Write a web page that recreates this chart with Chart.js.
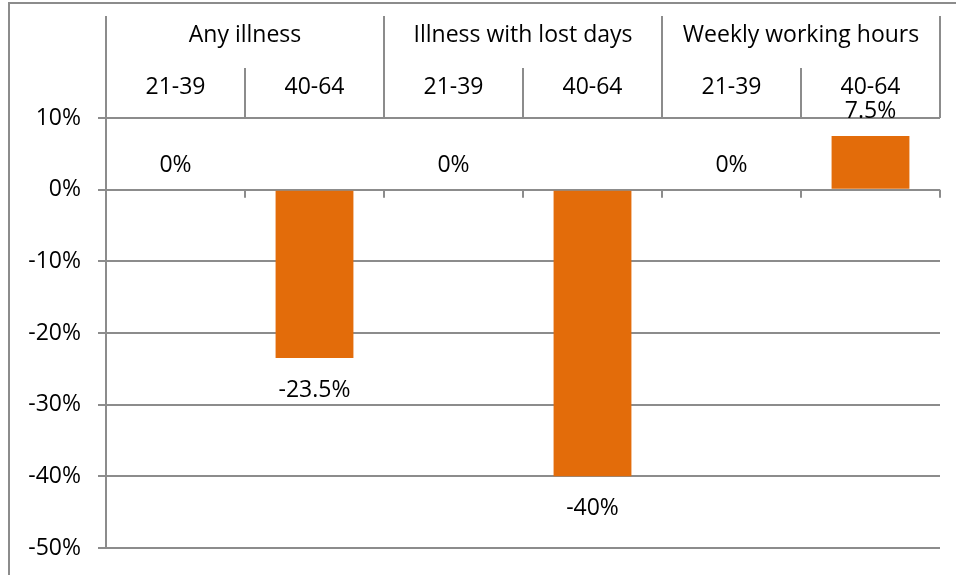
<!DOCTYPE html>
<html>
<head>
<meta charset="utf-8">
<script src="https://cdn.jsdelivr.net/npm/chart.js@4/dist/chart.umd.min.js"></script>
<style>
  html, body { margin: 0; padding: 0; background: #fff; }
  canvas { display: block; }
</style>
</head>
<body>
<canvas id="chart" width="956" height="575"></canvas>
<script>
// groups across the top, two age bands under each
const groups = ['Any illness', 'Illness with lost days', 'Weekly working hours'];
const ageBands = ['21-39', '40-64'];
const categories = ['21-39', '40-64', '21-39', '40-64', '21-39', '40-64'];
const changes = [0, -23.5, 0, -40, 0, 7.5];
const yMin = -50, yMax = 10, yStep = 10;

const FONT = '"Open Sans", sans-serif';
const LINE = '#8c8c8c';

const fmt = v => v + '%';

// outer frame of the chart object
const framePlugin = {
    id: 'frame',
    beforeDraw(chart) {
        const ctx = chart.ctx;
        ctx.save();
        ctx.strokeStyle = LINE;
        ctx.lineWidth = 2;
        ctx.strokeRect(9, 3, 1200, 1200);
        ctx.restore();
    }
};

// header table with groups and age bands, plus ticks on the zero line
const headerPlugin = {
    id: 'header',
    afterDraw(chart) {
        const ctx = chart.ctx;
        const x = chart.scales.x;
        const y = chart.scales.y;
        const top = chart.chartArea.top;
        const zero = y.getPixelForValue(0);
        ctx.save();
        ctx.strokeStyle = LINE;
        ctx.lineWidth = 2;
        ctx.beginPath();
        categories.forEach((c, i) => {
            const bx = x.getPixelForValue(i - 0.5);
            const isGroupEdge = i % ageBands.length === 0;
            ctx.moveTo(bx, isGroupEdge ? 16 : 68);
            ctx.lineTo(bx, top);
            ctx.moveTo(bx, zero);
            ctx.lineTo(bx, zero + 8);
        });
        const rx = x.getPixelForValue(categories.length - 0.5);
        ctx.moveTo(rx, 16);
        ctx.lineTo(rx, top);
        ctx.moveTo(rx, zero);
        ctx.lineTo(rx, zero + 8);
        ctx.stroke();

        ctx.fillStyle = '#000';
        ctx.font = '23px ' + FONT;
        ctx.textAlign = 'center';
        ctx.textBaseline = 'middle';
        groups.forEach((g, gi) => {
            const a = x.getPixelForValue(gi * ageBands.length - 0.5);
            const b = x.getPixelForValue((gi + 1) * ageBands.length - 0.5);
            ctx.fillText(g, (a + b) / 2, 35);
        });
        categories.forEach((c, i) => {
            ctx.fillText(c, x.getPixelForValue(i), 87);
        });
        ctx.restore();
    }
};

// value labels beyond the end of each bar
const valueLabels = {
    id: 'valueLabels',
    afterDatasetsDraw(chart) {
        const ctx = chart.ctx;
        const meta = chart.getDatasetMeta(0);
        ctx.save();
        ctx.fillStyle = '#000';
        ctx.font = '23px ' + FONT;
        ctx.textAlign = 'center';
        ctx.textBaseline = 'middle';
        meta.data.forEach((bar, i) => {
            const v = changes[i];
            const ly = v >= 0 ? bar.y - 24 : bar.y + 32;
            ctx.fillText(fmt(v), bar.x, ly);
        });
        ctx.restore();
    }
};

new Chart(document.getElementById('chart'), {
    type: 'bar',
    data: {
        labels: categories,
        datasets: [{
            data: changes,
            backgroundColor: '#e36c0a',
            borderWidth: 0,
            categoryPercentage: 1,
            barPercentage: 0.56
        }]
    },
    options: {
        responsive: false,
        devicePixelRatio: 1,
        animation: false,
        layout: { padding: { top: 118, right: 16, bottom: 27, left: 0 } },
        plugins: { legend: { display: false }, tooltip: { enabled: false } },
        scales: {
            x: { display: false },
            y: {
                min: yMin,
                max: yMax,
                afterFit: s => {
                    s.width = 106;
                    s.paddingTop = 0;
                    s.paddingBottom = 0;
                },
                ticks: {
                    stepSize: yStep,
                    callback: fmt,
                    color: '#000',
                    padding: 17,
                    font: { family: FONT, size: 23 }
                },
                grid: { color: LINE, lineWidth: 2, tickLength: 8 },
                border: { color: LINE, width: 2 }
            }
        }
    },
    plugins: [framePlugin, headerPlugin, valueLabels]
});
</script>
</body>
</html>
